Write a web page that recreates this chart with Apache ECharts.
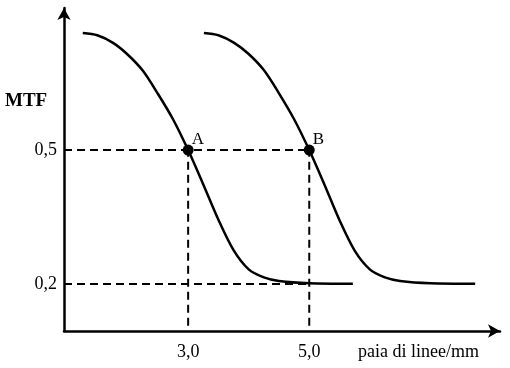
<!DOCTYPE html>
<html><head><meta charset="utf-8">
<script src="https://cdn.jsdelivr.net/npm/echarts@6/dist/echarts.min.js"></script>
<style>html,body{margin:0;padding:0;background:#fff}#c{width:510px;height:368px}</style>
</head><body><div id="c"></div>
<script>
// Curve A (lp/mm, MTF)
const curveAx = [1.26, 1.50, 1.76, 2.0, 2.25, 2.5, 2.75, 3.0, 3.25, 3.5, 3.75, 4.0, 4.25, 4.5, 5.0, 5.72];
const curveAy = [0.762, 0.757, 0.740, 0.714, 0.678, 0.626, 0.569, 0.5, 0.423, 0.344, 0.276, 0.233, 0.215, 0.207, 0.202, 0.201];
// Curve B
const curveBx = [3.26, 3.50, 3.76, 4.0, 4.25, 4.5, 4.75, 5.0, 5.25, 5.5, 5.75, 6.0, 6.25, 6.5, 7.0, 7.74];
const curveBy = [0.762, 0.757, 0.740, 0.715, 0.679, 0.627, 0.569, 0.5, 0.423, 0.343, 0.275, 0.233, 0.215, 0.207, 0.202, 0.201];
// Marked points
const pointNames = ['A', 'B'];
const pointX = [3.0, 5.0];
const pointY = [0.5, 0.5];
// Tick labels
const xTicks = [3.0, 5.0];
const yTicks = [0.2, 0.5];
const xName = 'paia di linee/mm';
const yName = 'MTF';
const xMin = 0.95, xMax = 8.15, yMin = 0.095, yMax = 0.818;

const font = '"Liberation Serif", "DejaVu Serif", serif';
const fmt = v => Number(v).toFixed(1).replace('.', ',');
const zip = (xs, ys) => xs.map((x, i) => [x, ys[i]]);
const dashStyle = { color: '#000', width: 2, type: [8, 5] };

const guides = [];
yTicks.forEach(y => guides.push([[xMin, y], [xTicks[1], y]]));
xTicks.forEach(x => guides.push([[x, yMin + 0.012], [x, pointY[0]]]));

const series = [];
guides.forEach(g => series.push({
  type: 'line', data: g, symbol: 'none', silent: true,
  lineStyle: dashStyle, z: 1
}));
series.push({ type: 'line', data: zip(curveAx, curveAy), smooth: 0.3, symbol: 'none',
  lineStyle: { color: '#000', width: 2.5 }, z: 3 });
series.push({ type: 'line', data: zip(curveBx, curveBy), smooth: 0.3, symbol: 'none',
  lineStyle: { color: '#000', width: 2.5 }, z: 3 });
series.push({ type: 'scatter', symbol: 'circle', symbolSize: 11, z: 4,
  itemStyle: { color: '#000', opacity: 1 },
  data: pointNames.map((n, i) => ({ name: n, value: [pointX[i], pointY[i]] })),
  label: { show: true, position: 'right', distance: 0, offset: [-2, -11],
    formatter: p => p.name, fontFamily: font, fontSize: 17, color: '#000' } });

const chart = echarts.init(document.getElementById('c'), null, { renderer: 'canvas' });
chart.setOption({
  animation: false,
  backgroundColor: '#fff',
  grid: { left: 64, right: 10, top: 8, bottom: 37, containLabel: false },
  xAxis: {
    type: 'value', min: xMin, max: xMax,
    axisLine: { show: true, onZero: false, symbol: ['none', 'arrow'], symbolSize: [10, 12],
      lineStyle: { color: '#000', width: 2.5 } },
    axisTick: { show: false }, splitLine: { show: false },
    axisLabel: { customValues: xTicks, formatter: fmt, margin: 12,
      fontFamily: font, fontSize: 18, color: '#000' }
  },
  yAxis: {
    type: 'value', min: yMin, max: yMax,
    axisLine: { show: true, onZero: false, symbol: ['none', 'arrow'], symbolSize: [10, 12],
      lineStyle: { color: '#000', width: 2.5 } },
    axisTick: { show: false }, splitLine: { show: false },
    axisLabel: { customValues: yTicks, formatter: fmt, margin: 7,
      fontFamily: font, fontSize: 18, color: '#000' }
  },
  graphic: [
    { type: 'text', left: 358, top: 343, style: { text: xName, font: '18px ' + font, fill: '#000' } },
    { type: 'text', left: 5, top: 92, style: { text: yName, font: 'bold 19px ' + font, fill: '#000' } }
  ],
  series: series
});
</script></body></html>
